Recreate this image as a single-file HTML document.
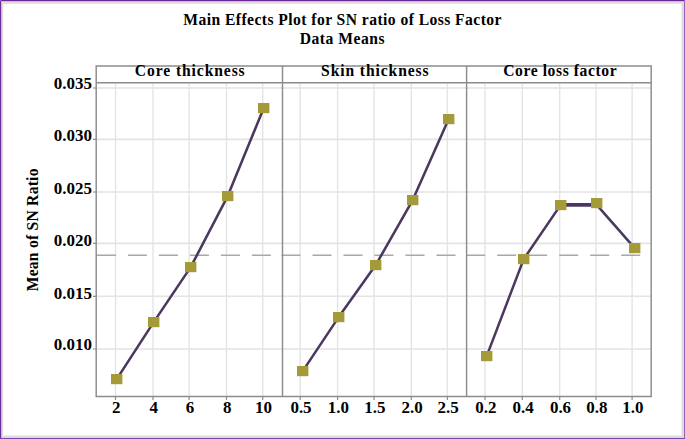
<!DOCTYPE html>
<html><head><meta charset="utf-8"><style>
html,body{margin:0;padding:0;background:#fff;width:685px;height:439px;overflow:hidden}
svg{display:block}
text{font-family:"Liberation Serif",serif}
</style></head><body>
<svg width="685" height="439" viewBox="0 0 685 439"><rect x="0" y="0" width="685" height="439" fill="#fff"/><rect x="3" y="3" width="679" height="433" fill="#f3f3f3"/><rect x="4" y="4" width="677" height="431" fill="#fff"/><rect x="681" y="1" width="1" height="437" fill="#f0f0f0"/><rect x="1" y="435" width="683" height="1" fill="#f0f0f0"/><rect x="682" y="1" width="2" height="437" fill="#dcdcdc"/><rect x="1" y="436" width="683" height="2" fill="#dcdcdc"/><rect x="1" y="1" width="683" height="3" fill="#dfdfdf"/><rect x="1" y="1" width="2" height="437" fill="#dddddd"/><rect x="3" y="4" width="1" height="431" fill="#fafafa"/><rect x="1" y="1" width="683" height="1" fill="#c6bccd"/><rect x="1" y="1" width="1" height="437" fill="#c6bccd"/><rect x="0" y="0" width="685" height="1" fill="#6e269b"/><rect x="0" y="0" width="1" height="439" fill="#702c9e"/><rect x="684" y="0" width="1" height="439" fill="#9463b8"/><rect x="0" y="438" width="685" height="1" fill="#7d45ad"/><rect x="0" y="0" width="1" height="1" fill="#9c78c0"/><path d="M97 88.0H651 M97 139.4H651 M97 192.0H651 M97 243.4H651 M97 296.3H651 M97 349.0H651" stroke="#e4e4e4" stroke-width="1.6" fill="none"/><path d="M115.5 83.5V396 M153.0 83.5V396 M189.1 83.5V396 M226.5 83.5V396 M262.7 83.5V396 M300.2 83.5V396 M337.6 83.5V396 M374.0 83.5V396 M411.3 83.5V396 M447.4 83.5V396 M485.0 83.5V396 M522.3 83.5V396 M559.7 83.5V396 M596.0 83.5V396 M632.1 83.5V396" stroke="#e4e4e4" stroke-width="1.4" fill="none"/><path d="M96.9 255.2H282" stroke="#a8a8a8" stroke-width="1.6" stroke-dasharray="19 12" fill="none"/><path d="M281.5 255.2H466" stroke="#a8a8a8" stroke-width="1.6" stroke-dasharray="19 12" fill="none"/><path d="M466.2 255.2H651" stroke="#a8a8a8" stroke-width="1.6" stroke-dasharray="19 12" fill="none"/><path d="M96.2 66.0H651.2V396.4H96.2Z M96.2 82.7H651.2 M282.5 66.0V396.4 M466.6 66.0V396.4" stroke="#8c8c8c" stroke-width="1.45" fill="none" stroke-linejoin="miter"/><path d="M93 88.0H96 M93 139.4H96 M93 192.0H96 M93 243.4H96 M93 296.3H96 M93 349.0H96" stroke="#8c8c8c" stroke-width="1.2" fill="none"/><path d="M115.5 397V400 M153.0 397V400 M189.1 397V400 M226.5 397V400 M262.7 397V400 M300.2 397V400 M337.6 397V400 M374.0 397V400 M411.3 397V400 M447.4 397V400 M485.0 397V400 M522.3 397V400 M559.7 397V400 M596.0 397V400 M632.1 397V400" stroke="#8c8c8c" stroke-width="1.2" fill="none"/><path d="M116.7 379.1 L153.7 322.1 L190.7 267.1 L227.7 196.1 L263.7 108.1" stroke="#4b385f" stroke-width="2.55" fill="none" stroke-linejoin="round"/><path d="M302.7 371.1 L338.7 317.1 L375.7 265.1 L412.7 200.1 L448.7 119.1" stroke="#4b385f" stroke-width="2.55" fill="none" stroke-linejoin="round"/><path d="M486.7 356.1 L523.7 259.1 L560.7 204.9" stroke="#4b385f" stroke-width="2.55" fill="none" stroke-linejoin="round"/><path d="M596.7 204.9 L634.7 248.1" stroke="#4b385f" stroke-width="2.55" fill="none" stroke-linejoin="round"/><path d="M560.7 204.9 H596.7" stroke="#4b385f" stroke-width="3.6" fill="none"/><rect x="111" y="374" width="11.4" height="10.2" fill="#a59a38"/><rect x="148" y="317" width="11.4" height="10.2" fill="#a59a38"/><rect x="185" y="262" width="11.4" height="10.2" fill="#a59a38"/><rect x="222" y="191" width="11.4" height="10.2" fill="#a59a38"/><rect x="258" y="103" width="11.4" height="10.2" fill="#a59a38"/><rect x="297" y="366" width="11.4" height="10.2" fill="#a59a38"/><rect x="333" y="312" width="11.4" height="10.2" fill="#a59a38"/><rect x="370" y="260" width="11.4" height="10.2" fill="#a59a38"/><rect x="407" y="195" width="11.4" height="10.2" fill="#a59a38"/><rect x="443" y="114" width="11.4" height="10.2" fill="#a59a38"/><rect x="481" y="351" width="11.4" height="10.2" fill="#a59a38"/><rect x="518" y="254" width="11.4" height="10.2" fill="#a59a38"/><rect x="555" y="200" width="11.4" height="10.2" fill="#a59a38"/><rect x="591" y="198" width="11.4" height="10.2" fill="#a59a38"/><rect x="629" y="243" width="11.4" height="10.2" fill="#a59a38"/><text transform="translate(342.6 24.7) scale(0.92 1.0)" text-anchor="middle" font-family="Liberation Serif" font-weight="bold" font-size="17" fill="#000" letter-spacing="0.47">Main Effects Plot for SN ratio of Loss Factor</text><text transform="translate(342.38 43.8) scale(0.92 1.0)" text-anchor="middle" font-family="Liberation Serif" font-weight="bold" font-size="17" fill="#000" letter-spacing="0.528">Data Means</text><text transform="translate(190.2 75.9) scale(0.92 1.0)" text-anchor="middle" font-family="Liberation Serif" font-weight="bold" font-size="17" fill="#000" letter-spacing="0.967">Core thickness</text><text transform="translate(375.3 75.9) scale(0.92 1.0)" text-anchor="middle" font-family="Liberation Serif" font-weight="bold" font-size="17" fill="#000" letter-spacing="0.967">Skin thickness</text><text transform="translate(560.2 75.9) scale(0.92 1.0)" text-anchor="middle" font-family="Liberation Serif" font-weight="bold" font-size="17" fill="#000" letter-spacing="0.629">Core loss factor</text><text transform="translate(92 89.45) scale(1.0 1.03)" text-anchor="end" font-family="Liberation Serif" font-weight="bold" font-size="17" fill="#000">0.035</text><text transform="translate(92 140.95) scale(1.0 1.03)" text-anchor="end" font-family="Liberation Serif" font-weight="bold" font-size="17" fill="#000">0.030</text><text transform="translate(92 193.5) scale(1.0 1.03)" text-anchor="end" font-family="Liberation Serif" font-weight="bold" font-size="17" fill="#000">0.025</text><text transform="translate(92 246.15) scale(1.0 1.03)" text-anchor="end" font-family="Liberation Serif" font-weight="bold" font-size="17" fill="#000">0.020</text><text transform="translate(92 298.9) scale(1.0 1.03)" text-anchor="end" font-family="Liberation Serif" font-weight="bold" font-size="17" fill="#000">0.015</text><text transform="translate(92 350.45) scale(1.0 1.03)" text-anchor="end" font-family="Liberation Serif" font-weight="bold" font-size="17" fill="#000">0.010</text><text transform="translate(116.3 412.6) scale(1.0 1.03)" text-anchor="middle" font-family="Liberation Serif" font-weight="bold" font-size="17" fill="#000">2</text><text transform="translate(153.8 412.6) scale(1.0 1.03)" text-anchor="middle" font-family="Liberation Serif" font-weight="bold" font-size="17" fill="#000">4</text><text transform="translate(189.9 412.6) scale(1.0 1.03)" text-anchor="middle" font-family="Liberation Serif" font-weight="bold" font-size="17" fill="#000">6</text><text transform="translate(227.3 412.6) scale(1.0 1.03)" text-anchor="middle" font-family="Liberation Serif" font-weight="bold" font-size="17" fill="#000">8</text><text transform="translate(263.5 412.6) scale(1.0 1.03)" text-anchor="middle" font-family="Liberation Serif" font-weight="bold" font-size="17" fill="#000">10</text><text transform="translate(301.0 412.6) scale(1.0 1.03)" text-anchor="middle" font-family="Liberation Serif" font-weight="bold" font-size="17" fill="#000">0.5</text><text transform="translate(338.40000000000003 412.6) scale(1.0 1.03)" text-anchor="middle" font-family="Liberation Serif" font-weight="bold" font-size="17" fill="#000">1.0</text><text transform="translate(374.8 412.6) scale(1.0 1.03)" text-anchor="middle" font-family="Liberation Serif" font-weight="bold" font-size="17" fill="#000">1.5</text><text transform="translate(412.1 412.6) scale(1.0 1.03)" text-anchor="middle" font-family="Liberation Serif" font-weight="bold" font-size="17" fill="#000">2.0</text><text transform="translate(448.2 412.6) scale(1.0 1.03)" text-anchor="middle" font-family="Liberation Serif" font-weight="bold" font-size="17" fill="#000">2.5</text><text transform="translate(485.8 412.6) scale(1.0 1.03)" text-anchor="middle" font-family="Liberation Serif" font-weight="bold" font-size="17" fill="#000">0.2</text><text transform="translate(523.0999999999999 412.6) scale(1.0 1.03)" text-anchor="middle" font-family="Liberation Serif" font-weight="bold" font-size="17" fill="#000">0.4</text><text transform="translate(560.5 412.6) scale(1.0 1.03)" text-anchor="middle" font-family="Liberation Serif" font-weight="bold" font-size="17" fill="#000">0.6</text><text transform="translate(596.8 412.6) scale(1.0 1.03)" text-anchor="middle" font-family="Liberation Serif" font-weight="bold" font-size="17" fill="#000">0.8</text><text transform="translate(632.9 412.6) scale(1.0 1.03)" text-anchor="middle" font-family="Liberation Serif" font-weight="bold" font-size="17" fill="#000">1.0</text><text transform="translate(38.2 229.8) rotate(-90) scale(0.92 1)" text-anchor="middle" font-family="Liberation Serif" font-weight="bold" font-size="17" fill="#000" letter-spacing="0.246">Mean of SN Ratio</text></svg>
</body></html>
